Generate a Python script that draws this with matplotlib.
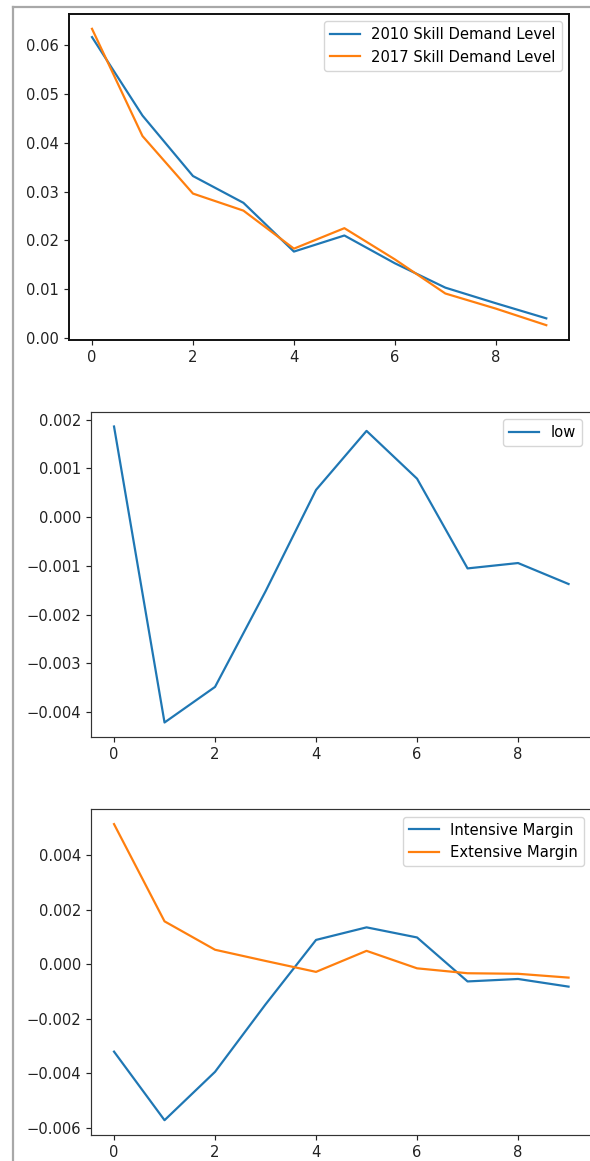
import matplotlib
matplotlib.use("Agg")
import matplotlib.pyplot as plt
from matplotlib.lines import Line2D

# ---- data ----
x = [0, 1, 2, 3, 4, 5, 6, 7, 8, 9]
skill_2010 = [0.0617, 0.0456, 0.0332, 0.0277, 0.0177, 0.0210, 0.0153, 0.0103, 0.0071, 0.0040]
skill_2017 = [0.0634, 0.0414, 0.0296, 0.0261, 0.0183, 0.0225, 0.0161, 0.0091, 0.0060, 0.0026]
low = [0.00186, -0.00421, -0.00348, -0.00152, 0.00056, 0.00177, 0.00079, -0.00105, -0.00094, -0.00137]
intensive = [-0.00320, -0.00571, -0.00394, -0.00147, 0.00089, 0.00135, 0.00098, -0.00063, -0.00054, -0.00082]
extensive = [0.00513, 0.00157, 0.00053, 0.00012, -0.00028, 0.00049, -0.00015, -0.00033, -0.00035, -0.00049]

labels1 = ["2010 Skill Demand Level", "2017 Skill Demand Level"]
labels2 = ["low"]
labels3 = ["Intensive Margin", "Extensive Margin"]

BLUE = "#1f77b4"
ORANGE = "#ff7f0e"

W, H = 590, 1161
s = 1.06
plt.rcParams.update({
    "font.family": ["DejaVu Sans"],
    "font.size": 10 * s,
    "xtick.labelsize": 10 * s,
    "ytick.labelsize": 10 * s,
    "legend.fontsize": 10 * s,
    "xtick.major.size": 3.5 * s,
    "ytick.major.size": 3.5 * s,
    "xtick.major.width": 0.8 * s,
    "ytick.major.width": 0.8 * s,
    "lines.linewidth": 1.5 * s,
    "xtick.color": "#222222",
    "ytick.color": "#222222",
})

fig = plt.figure(figsize=(W / 100, H / 100), dpi=100)


def add_ax(left, right, top, bottom):
    return fig.add_axes([left / W, 1 - bottom / H, (right - left) / W, (bottom - top) / H])


# notebook cell border
fig.add_artist(Line2D([12.5 / W, 12.5 / W], [0, 1 - 7 / H], color="#a8a8a8", lw=1.6,
                      transform=fig.transFigure))
fig.add_artist(Line2D([12.5 / W, 1], [1 - 7 / H, 1 - 7 / H], color="#a8a8a8", lw=1.6,
                      transform=fig.transFigure))

ax1 = add_ax(69.3, 569, 14, 340)
ax1.plot(x, skill_2010, color=BLUE, label=labels1[0])
ax1.plot(x, skill_2017, color=ORANGE, label=labels1[1])
ax1.set_yticks([0.00, 0.01, 0.02, 0.03, 0.04, 0.05, 0.06])
ax1.set_xticks([0, 2, 4, 6, 8])
for sp in ax1.spines.values():
    sp.set_linewidth(1.4)
    sp.set_color("#111111")
ax1.legend(loc="upper right")

ax2 = add_ax(91.3, 593, 411.7, 737.3)
ax2.plot(x, low, color=BLUE, label=labels2[0])
ax2.set_xlim(-0.45, 9.484)
ax2.set_xticks([0, 2, 4, 6, 8])
for sp in ax2.spines.values():
    sp.set_linewidth(0.85)
    sp.set_color("#333333")
ax2.legend(loc="upper right", bbox_to_anchor=(1 - 4 / 502, 1))

ax3 = add_ax(91.3, 593, 809.3, 1135)
ax3.plot(x, intensive, color=BLUE, label=labels3[0])
ax3.plot(x, extensive, color=ORANGE, label=labels3[1])
ax3.set_xlim(-0.45, 9.484)
ax3.set_xticks([0, 2, 4, 6, 8])
for sp in ax3.spines.values():
    sp.set_linewidth(0.85)
    sp.set_color("#333333")
ax3.legend(loc="upper right", bbox_to_anchor=(1 - 1.6 / 502, 1))

fig.savefig("out.png", dpi=100)
